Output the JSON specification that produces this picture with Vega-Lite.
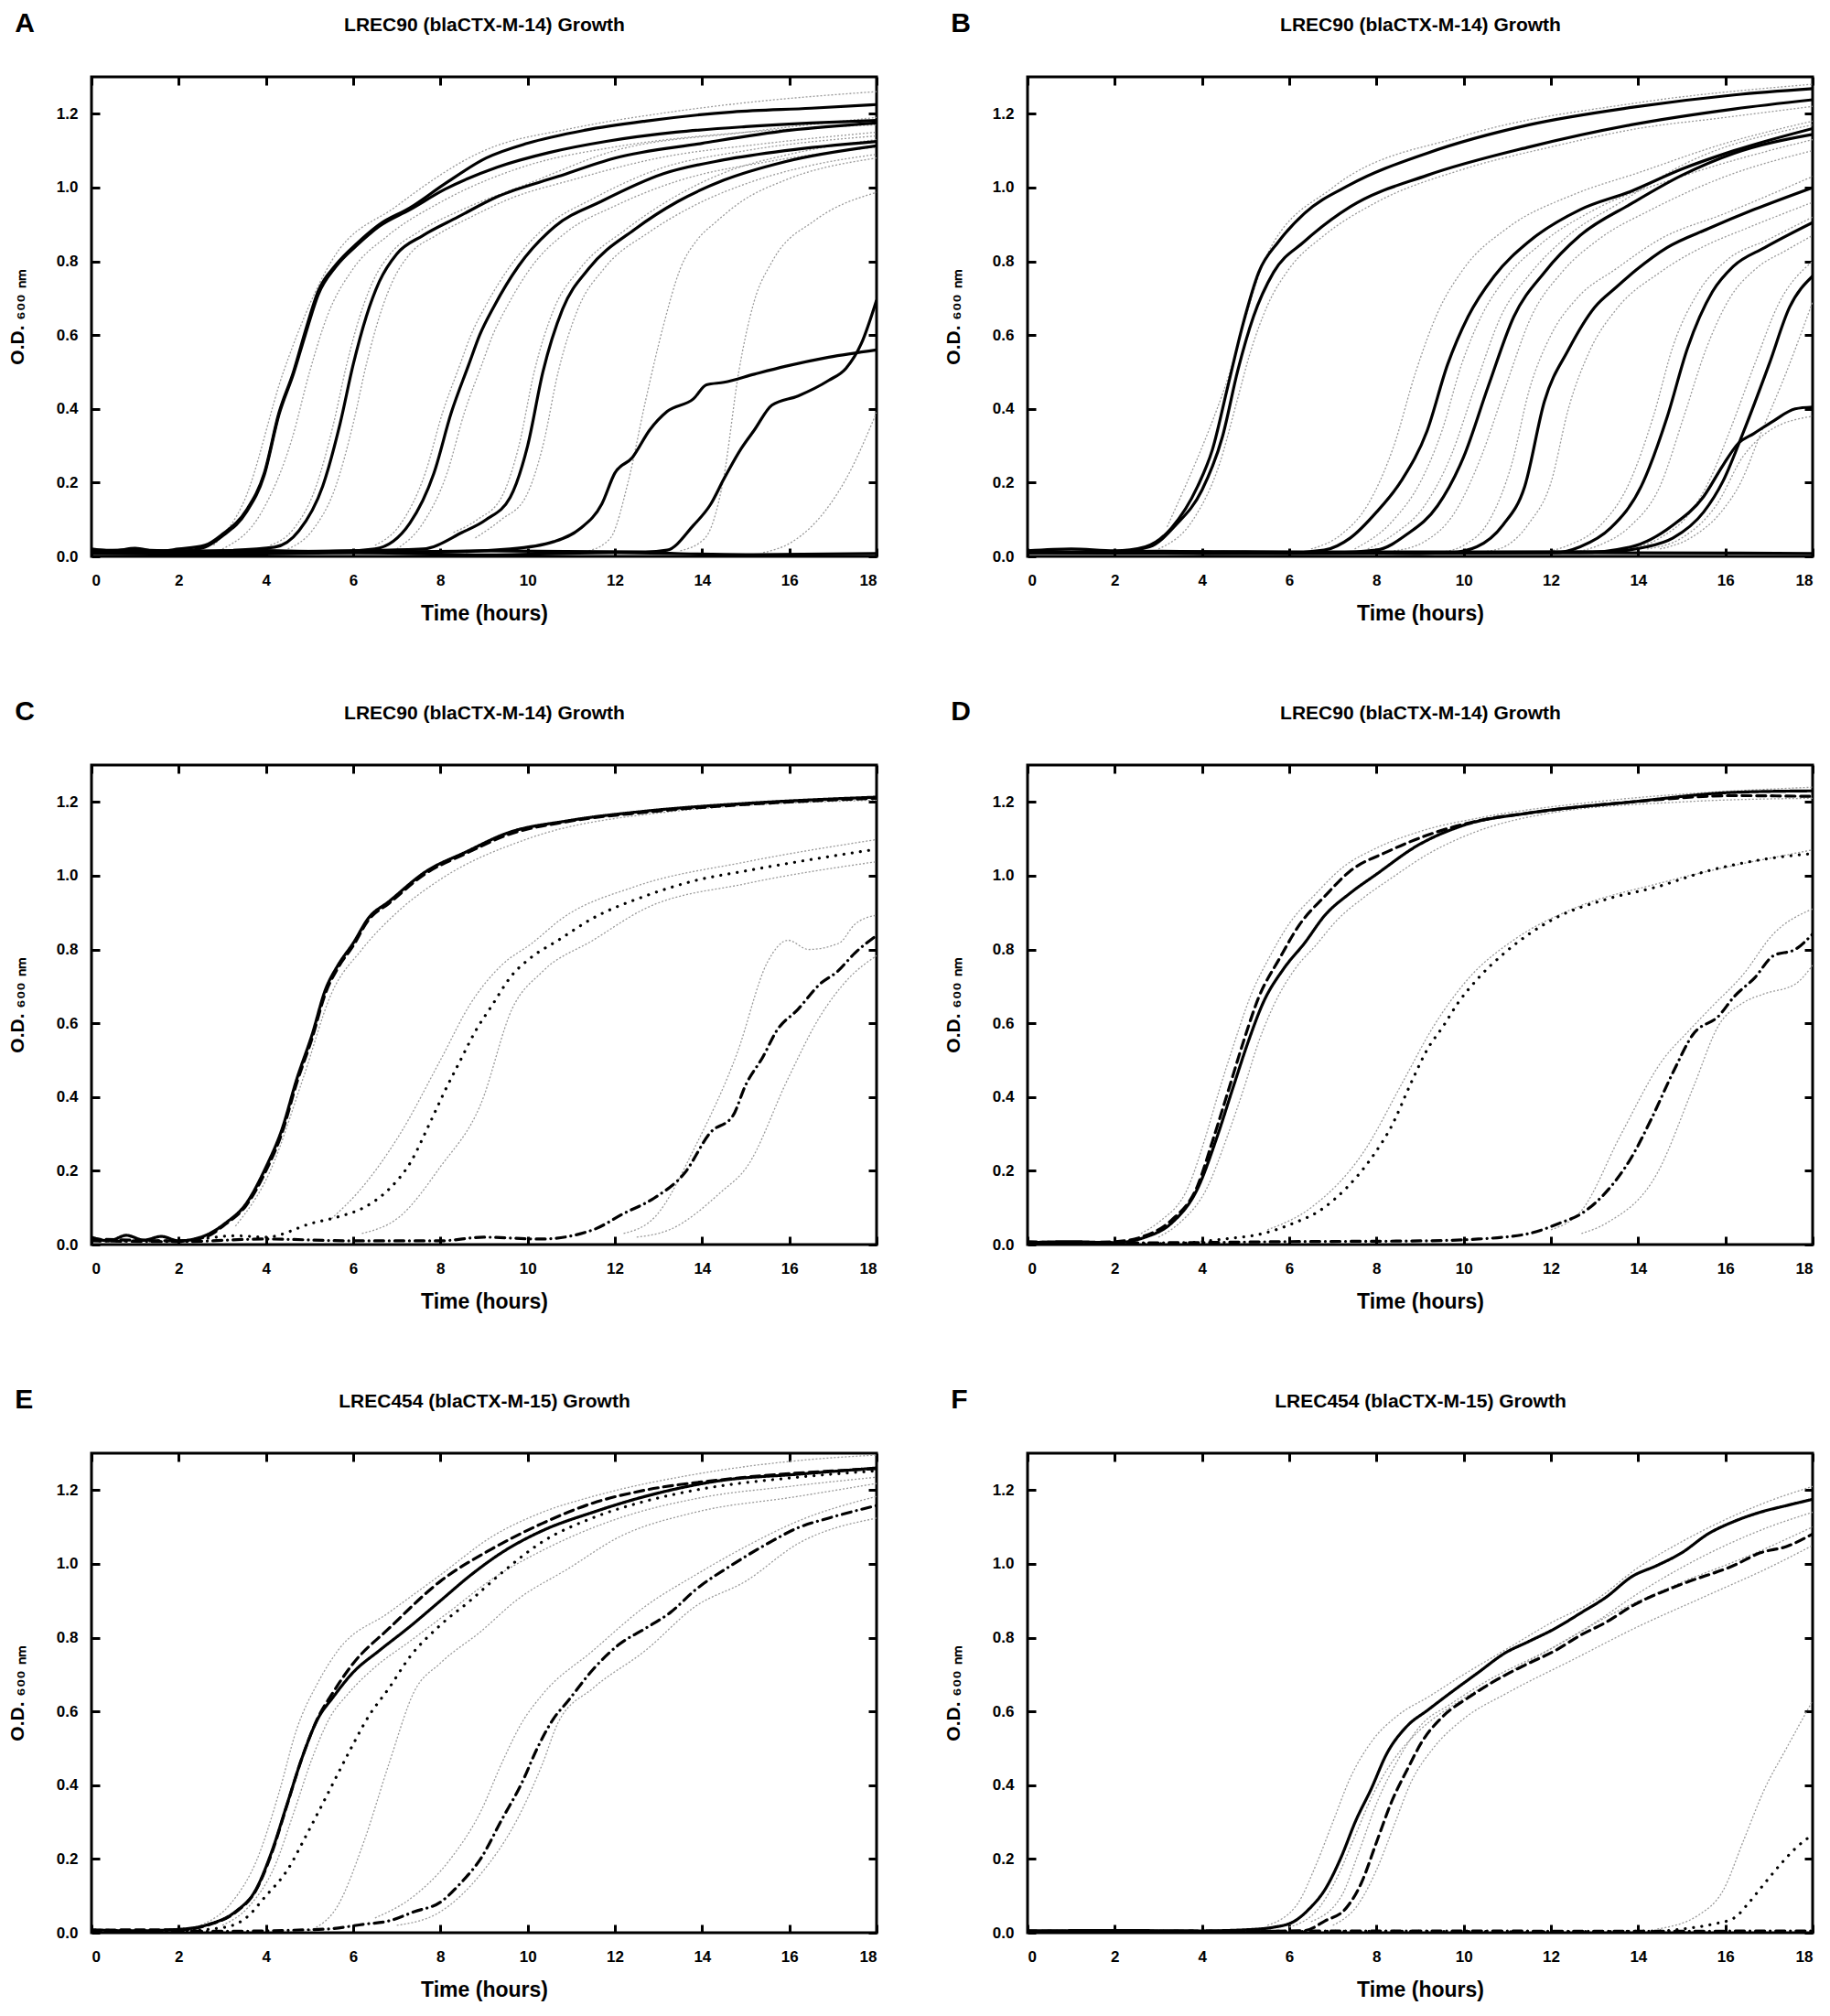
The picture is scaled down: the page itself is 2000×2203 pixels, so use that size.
{
  "$schema": "https://vega.github.io/schema/vega-lite/v6.json",
  "padding": {"left": 6, "top": 9, "right": 0, "bottom": 0},
  "background": "white",
  "columns": 2,
  "spacing": {"row": 77, "column": 68},
  "datasets": {
    "A_m": [
      {"c":"1","t":0,"v":0.02},{"c":"1","t":0.5,"v":0.015},{"c":"1","t":1,"v":0.022},{"c":"1","t":1.5,"v":0.014},{"c":"1","t":2,"v":0.02},{"c":"1","t":2.6,"v":0.03},{"c":"1","t":3.0,"v":0.06},{"c":"1","t":3.55,"v":0.125},{"c":"1","t":3.96,"v":0.225},{"c":"1","t":4.3,"v":0.39},{"c":"1","t":4.63,"v":0.5},{"c":"1","t":4.9,"v":0.61},{"c":"1","t":5.2,"v":0.72},{"c":"1","t":5.6,"v":0.79},{"c":"1","t":6.1,"v":0.85},{"c":"1","t":6.6,"v":0.9},{"c":"1","t":7.3,"v":0.945},{"c":"1","t":8.1,"v":1.01},{"c":"1","t":9.05,"v":1.08},{"c":"1","t":10,"v":1.12},{"c":"1","t":11.3,"v":1.155},{"c":"1","t":12.7,"v":1.18},{"c":"1","t":14.7,"v":1.205},{"c":"1","t":16.5,"v":1.215},{"c":"1","t":18,"v":1.225},
      {"c":"2","t":0,"v":0.015},{"c":"2","t":1,"v":0.018},{"c":"2","t":2,"v":0.014},{"c":"2","t":2.6,"v":0.025},{"c":"2","t":3.0,"v":0.055},{"c":"2","t":3.55,"v":0.12},{"c":"2","t":3.96,"v":0.22},{"c":"2","t":4.3,"v":0.385},{"c":"2","t":4.63,"v":0.495},{"c":"2","t":4.9,"v":0.6},{"c":"2","t":5.2,"v":0.71},{"c":"2","t":5.6,"v":0.785},{"c":"2","t":6.1,"v":0.845},{"c":"2","t":6.6,"v":0.895},{"c":"2","t":7.3,"v":0.94},{"c":"2","t":8.1,"v":0.995},{"c":"2","t":9.3,"v":1.055},{"c":"2","t":10.5,"v":1.095},{"c":"2","t":11.8,"v":1.125},{"c":"2","t":13.4,"v":1.15},{"c":"2","t":15,"v":1.165},{"c":"2","t":16.5,"v":1.175},{"c":"2","t":18,"v":1.182},
      {"c":"3","t":0,"v":0.012},{"c":"3","t":1,"v":0.016},{"c":"3","t":2,"v":0.012},{"c":"3","t":3,"v":0.015},{"c":"3","t":4.2,"v":0.025},{"c":"3","t":4.76,"v":0.07},{"c":"3","t":5.3,"v":0.19},{"c":"3","t":5.7,"v":0.36},{"c":"3","t":6.0,"v":0.52},{"c":"3","t":6.3,"v":0.65},{"c":"3","t":6.6,"v":0.745},{"c":"3","t":7.0,"v":0.82},{"c":"3","t":7.6,"v":0.87},{"c":"3","t":8.4,"v":0.92},{"c":"3","t":9.3,"v":0.975},{"c":"3","t":10.7,"v":1.03},{"c":"3","t":12,"v":1.08},{"c":"3","t":14,"v":1.12},{"c":"3","t":16,"v":1.155},{"c":"3","t":18,"v":1.175},
      {"c":"4","t":0,"v":0.018},{"c":"4","t":2,"v":0.012},{"c":"4","t":4,"v":0.016},{"c":"4","t":5.5,"v":0.012},{"c":"4","t":6.5,"v":0.02},{"c":"4","t":7.3,"v":0.09},{"c":"4","t":7.85,"v":0.225},{"c":"4","t":8.25,"v":0.39},{"c":"4","t":8.65,"v":0.52},{"c":"4","t":8.9,"v":0.6},{"c":"4","t":9.23,"v":0.678},{"c":"4","t":9.79,"v":0.787},{"c":"4","t":10.63,"v":0.895},{"c":"4","t":11.68,"v":0.962},{"c":"4","t":13.1,"v":1.037},{"c":"4","t":14.5,"v":1.075},{"c":"4","t":15.9,"v":1.1},{"c":"4","t":18,"v":1.125},
      {"c":"5","t":0,"v":0.01},{"c":"5","t":2,"v":0.015},{"c":"5","t":4,"v":0.01},{"c":"5","t":6,"v":0.015},{"c":"5","t":7.6,"v":0.02},{"c":"5","t":8.5,"v":0.065},{"c":"5","t":9.05,"v":0.1},{"c":"5","t":9.6,"v":0.16},{"c":"5","t":10.0,"v":0.3},{"c":"5","t":10.35,"v":0.5},{"c":"5","t":10.8,"v":0.67},{"c":"5","t":11.4,"v":0.78},{"c":"5","t":12.46,"v":0.887},{"c":"5","t":13.44,"v":0.962},{"c":"5","t":14.5,"v":1.02},{"c":"5","t":15.9,"v":1.07},{"c":"5","t":18,"v":1.113},
      {"c":"6","t":0,"v":0.015},{"c":"6","t":3,"v":0.01},{"c":"6","t":6,"v":0.015},{"c":"6","t":8,"v":0.012},{"c":"6","t":9.6,"v":0.02},{"c":"6","t":10.6,"v":0.04},{"c":"6","t":11.2,"v":0.075},{"c":"6","t":11.7,"v":0.142},{"c":"6","t":12.0,"v":0.226},{"c":"6","t":12.4,"v":0.268},{"c":"6","t":12.8,"v":0.343},{"c":"6","t":13.2,"v":0.393},{"c":"6","t":13.8,"v":0.427},{"c":"6","t":14.1,"v":0.465},{"c":"6","t":14.5,"v":0.472},{"c":"6","t":15.2,"v":0.494},{"c":"6","t":15.9,"v":0.515},{"c":"6","t":16.9,"v":0.54},{"c":"6","t":18,"v":0.56},
      {"c":"7","t":0,"v":0.01},{"c":"7","t":3,"v":0.015},{"c":"7","t":6,"v":0.01},{"c":"7","t":9,"v":0.015},{"c":"7","t":12.7,"v":0.012},{"c":"7","t":13.2,"v":0.017},{"c":"7","t":13.8,"v":0.084},{"c":"7","t":14.2,"v":0.142},{"c":"7","t":14.5,"v":0.21},{"c":"7","t":14.9,"v":0.293},{"c":"7","t":15.2,"v":0.343},{"c":"7","t":15.6,"v":0.41},{"c":"7","t":16.2,"v":0.435},{"c":"7","t":16.9,"v":0.477},{"c":"7","t":17.3,"v":0.51},{"c":"7","t":17.65,"v":0.577},{"c":"7","t":18,"v":0.695},
      {"c":"8","t":0,"v":0.008},{"c":"8","t":3,"v":0.005},{"c":"8","t":6,"v":0.01},{"c":"8","t":9,"v":0.004},{"c":"8","t":12,"v":0.01},{"c":"8","t":15,"v":0.005},{"c":"8","t":18,"v":0.008}
    ],
    "A_e": [
      {"c":"u1","t":2.8,"v":0.03},{"c":"u1","t":3.5,"v":0.15},{"c":"u1","t":4.4,"v":0.5},{"c":"u1","t":5.5,"v":0.8},{"c":"u1","t":7,"v":0.95},{"c":"u1","t":9,"v":1.1},{"c":"u1","t":11,"v":1.16},{"c":"u1","t":13,"v":1.2},{"c":"u1","t":15,"v":1.23},{"c":"u1","t":18,"v":1.26},
      {"c":"l1","t":3.0,"v":0.02},{"c":"l1","t":3.9,"v":0.12},{"c":"l1","t":4.6,"v":0.32},{"c":"l1","t":5.0,"v":0.5},{"c":"l1","t":5.4,"v":0.65},{"c":"l1","t":6.0,"v":0.78},{"c":"l1","t":6.8,"v":0.87},{"c":"l1","t":8,"v":0.96},{"c":"l1","t":10,"v":1.06},{"c":"l1","t":12,"v":1.11},{"c":"l1","t":15,"v":1.15},{"c":"l1","t":18,"v":1.17},
      {"c":"u3","t":4.1,"v":0.03},{"c":"u3","t":4.6,"v":0.07},{"c":"u3","t":5.15,"v":0.19},{"c":"u3","t":5.55,"v":0.36},{"c":"u3","t":5.85,"v":0.52},{"c":"u3","t":6.15,"v":0.65},{"c":"u3","t":6.45,"v":0.745},{"c":"u3","t":6.85,"v":0.82},{"c":"u3","t":7.5,"v":0.88},{"c":"u3","t":8.5,"v":0.94},{"c":"u3","t":10,"v":1.01},{"c":"u3","t":12,"v":1.1},{"c":"u3","t":15,"v":1.15},{"c":"u3","t":18,"v":1.19},
      {"c":"l3","t":4.5,"v":0.02},{"c":"l3","t":5.06,"v":0.07},{"c":"l3","t":5.6,"v":0.19},{"c":"l3","t":6.0,"v":0.36},{"c":"l3","t":6.3,"v":0.52},{"c":"l3","t":6.6,"v":0.65},{"c":"l3","t":6.9,"v":0.745},{"c":"l3","t":7.3,"v":0.82},{"c":"l3","t":7.9,"v":0.87},{"c":"l3","t":8.7,"v":0.92},{"c":"l3","t":9.6,"v":0.97},{"c":"l3","t":11,"v":1.02},{"c":"l3","t":13,"v":1.08},{"c":"l3","t":15.5,"v":1.12},{"c":"l3","t":18,"v":1.15},
      {"c":"u4","t":6.5,"v":0.03},{"c":"u4","t":7.1,"v":0.09},{"c":"u4","t":7.65,"v":0.225},{"c":"u4","t":8.05,"v":0.39},{"c":"u4","t":8.45,"v":0.52},{"c":"u4","t":8.7,"v":0.6},{"c":"u4","t":9.03,"v":0.678},{"c":"u4","t":9.6,"v":0.787},{"c":"u4","t":10.43,"v":0.895},{"c":"u4","t":11.5,"v":0.97},{"c":"u4","t":13,"v":1.05},{"c":"u4","t":15,"v":1.1},{"c":"u4","t":18,"v":1.14},
      {"c":"l4","t":7.0,"v":0.02},{"c":"l4","t":7.6,"v":0.09},{"c":"l4","t":8.15,"v":0.225},{"c":"l4","t":8.55,"v":0.39},{"c":"l4","t":8.95,"v":0.52},{"c":"l4","t":9.2,"v":0.6},{"c":"l4","t":9.53,"v":0.678},{"c":"l4","t":10.1,"v":0.787},{"c":"l4","t":10.9,"v":0.88},{"c":"l4","t":12,"v":0.95},{"c":"l4","t":13.5,"v":1.02},{"c":"l4","t":15.5,"v":1.07},{"c":"l4","t":18,"v":1.11},
      {"c":"u5","t":8.3,"v":0.065},{"c":"u5","t":8.85,"v":0.1},{"c":"u5","t":9.4,"v":0.16},{"c":"u5","t":9.8,"v":0.3},{"c":"u5","t":10.15,"v":0.5},{"c":"u5","t":10.6,"v":0.67},{"c":"u5","t":11.2,"v":0.78},{"c":"u5","t":12.26,"v":0.887},{"c":"u5","t":13.3,"v":0.97},{"c":"u5","t":14.5,"v":1.04},{"c":"u5","t":16,"v":1.09},{"c":"u5","t":18,"v":1.13},
      {"c":"l5","t":8.8,"v":0.05},{"c":"l5","t":9.4,"v":0.1},{"c":"l5","t":9.95,"v":0.16},{"c":"l5","t":10.35,"v":0.3},{"c":"l5","t":10.7,"v":0.5},{"c":"l5","t":11.15,"v":0.67},{"c":"l5","t":11.75,"v":0.78},{"c":"l5","t":12.8,"v":0.88},{"c":"l5","t":13.8,"v":0.95},{"c":"l5","t":15,"v":1.01},{"c":"l5","t":16.5,"v":1.06},{"c":"l5","t":18,"v":1.09},
      {"c":"g1","t":11.4,"v":0.015},{"c":"g1","t":11.9,"v":0.05},{"c":"g1","t":12.3,"v":0.2},{"c":"g1","t":12.7,"v":0.42},{"c":"g1","t":13.1,"v":0.62},{"c":"g1","t":13.5,"v":0.78},{"c":"g1","t":13.9,"v":0.86},{"c":"g1","t":14.3,"v":0.905},{"c":"g1","t":14.9,"v":0.962},{"c":"g1","t":15.9,"v":1.02},{"c":"g1","t":18,"v":1.08},
      {"c":"g2","t":13.5,"v":0.015},{"c":"g2","t":14.07,"v":0.05},{"c":"g2","t":14.49,"v":0.21},{"c":"g2","t":14.84,"v":0.5},{"c":"g2","t":15.19,"v":0.69},{"c":"g2","t":15.61,"v":0.8},{"c":"g2","t":16.6,"v":0.912},{"c":"g2","t":18,"v":0.987},
      {"c":"g3","t":15.4,"v":0.01},{"c":"g3","t":16.1,"v":0.042},{"c":"g3","t":16.8,"v":0.12},{"c":"g3","t":17.3,"v":0.21},{"c":"g3","t":18,"v":0.39}
    ],
    "B_m": [
      {"c":"1","t":0,"v":0.015},{"c":"1","t":1,"v":0.02},{"c":"1","t":2,"v":0.015},{"c":"1","t":2.7,"v":0.026},{"c":"1","t":3.3,"v":0.077},{"c":"1","t":3.9,"v":0.19},{"c":"1","t":4.24,"v":0.29},{"c":"1","t":4.59,"v":0.46},{"c":"1","t":4.94,"v":0.63},{"c":"1","t":5.3,"v":0.77},{"c":"1","t":5.76,"v":0.854},{"c":"1","t":6.35,"v":0.93},{"c":"1","t":7.4,"v":1.008},{"c":"1","t":9.16,"v":1.093},{"c":"1","t":11.5,"v":1.17},{"c":"1","t":13.84,"v":1.217},{"c":"1","t":16.2,"v":1.251},{"c":"1","t":18,"v":1.268},
      {"c":"2","t":0,"v":0.012},{"c":"2","t":1,"v":0.01},{"c":"2","t":2,"v":0.012},{"c":"2","t":2.8,"v":0.026},{"c":"2","t":3.4,"v":0.085},{"c":"2","t":4.0,"v":0.18},{"c":"2","t":4.47,"v":0.325},{"c":"2","t":4.82,"v":0.504},{"c":"2","t":5.18,"v":0.65},{"c":"2","t":5.64,"v":0.77},{"c":"2","t":6.35,"v":0.854},{"c":"2","t":7.4,"v":0.948},{"c":"2","t":9.16,"v":1.033},{"c":"2","t":11.5,"v":1.11},{"c":"2","t":13.84,"v":1.17},{"c":"2","t":16.2,"v":1.213},{"c":"2","t":18,"v":1.238},
      {"c":"3","t":0,"v":0.01},{"c":"3","t":3,"v":0.014},{"c":"3","t":6,"v":0.01},{"c":"3","t":6.8,"v":0.017},{"c":"3","t":7.4,"v":0.05},{"c":"3","t":8.0,"v":0.12},{"c":"3","t":8.57,"v":0.205},{"c":"3","t":9.16,"v":0.34},{"c":"3","t":9.63,"v":0.52},{"c":"3","t":10.1,"v":0.65},{"c":"3","t":10.7,"v":0.76},{"c":"3","t":11.5,"v":0.854},{"c":"3","t":12.67,"v":0.94},{"c":"3","t":13.84,"v":0.99},{"c":"3","t":15.0,"v":1.05},{"c":"3","t":16.2,"v":1.1},{"c":"3","t":18,"v":1.16},
      {"c":"4","t":0,"v":0.012},{"c":"4","t":4,"v":0.008},{"c":"4","t":7,"v":0.01},{"c":"4","t":8.0,"v":0.017},{"c":"4","t":8.7,"v":0.06},{"c":"4","t":9.4,"v":0.137},{"c":"4","t":10.0,"v":0.27},{"c":"4","t":10.56,"v":0.46},{"c":"4","t":11.15,"v":0.65},{"c":"4","t":11.85,"v":0.77},{"c":"4","t":12.67,"v":0.87},{"c":"4","t":13.84,"v":0.956},{"c":"4","t":15.0,"v":1.033},{"c":"4","t":16.2,"v":1.093},{"c":"4","t":18,"v":1.144},
      {"c":"5","t":0,"v":0.01},{"c":"5","t":5,"v":0.013},{"c":"5","t":9,"v":0.008},{"c":"5","t":9.7,"v":0.01},{"c":"5","t":10.3,"v":0.026},{"c":"5","t":10.9,"v":0.085},{"c":"5","t":11.4,"v":0.19},{"c":"5","t":11.85,"v":0.42},{"c":"5","t":12.4,"v":0.56},{"c":"5","t":13.0,"v":0.675},{"c":"5","t":13.5,"v":0.73},{"c":"5","t":13.96,"v":0.777},{"c":"5","t":14.66,"v":0.837},{"c":"5","t":15.6,"v":0.888},{"c":"5","t":16.65,"v":0.94},{"c":"5","t":18,"v":1.0},
      {"c":"6","t":0,"v":0.012},{"c":"6","t":6,"v":0.009},{"c":"6","t":12.1,"v":0.01},{"c":"6","t":12.67,"v":0.026},{"c":"6","t":13.37,"v":0.077},{"c":"6","t":14.07,"v":0.19},{"c":"6","t":14.66,"v":0.376},{"c":"6","t":15.13,"v":0.564},{"c":"6","t":15.7,"v":0.717},{"c":"6","t":16.18,"v":0.786},{"c":"6","t":16.9,"v":0.837},{"c":"6","t":18,"v":0.905},
      {"c":"7","t":0,"v":0.01},{"c":"7","t":7,"v":0.012},{"c":"7","t":13.25,"v":0.013},{"c":"7","t":14.2,"v":0.026},{"c":"7","t":14.8,"v":0.05},{"c":"7","t":15.5,"v":0.12},{"c":"7","t":15.95,"v":0.205},{"c":"7","t":16.4,"v":0.333},{"c":"7","t":17.0,"v":0.52},{"c":"7","t":17.47,"v":0.675},{"c":"7","t":18,"v":0.76},
      {"c":"8","t":0,"v":0.012},{"c":"8","t":6,"v":0.01},{"c":"8","t":12.67,"v":0.01},{"c":"8","t":13.84,"v":0.026},{"c":"8","t":14.8,"v":0.085},{"c":"8","t":15.5,"v":0.162},{"c":"8","t":15.95,"v":0.248},{"c":"8","t":16.3,"v":0.307},{"c":"8","t":16.65,"v":0.333},{"c":"8","t":17.1,"v":0.367},{"c":"8","t":17.6,"v":0.4},{"c":"8","t":18,"v":0.405},
      {"c":"9","t":0,"v":0.01},{"c":"9","t":6,"v":0.008},{"c":"9","t":12,"v":0.01},{"c":"9","t":18,"v":0.008}
    ],
    "B_e": [
      {"c":"u1","t":3.2,"v":0.08},{"c":"u1","t":4.5,"v":0.45},{"c":"u1","t":5.5,"v":0.82},{"c":"u1","t":7,"v":1.0},{"c":"u1","t":10,"v":1.14},{"c":"u1","t":14,"v":1.23},{"c":"u1","t":18,"v":1.28},
      {"c":"l2","t":3.0,"v":0.02},{"c":"l2","t":3.8,"v":0.1},{"c":"l2","t":4.4,"v":0.25},{"c":"l2","t":4.8,"v":0.42},{"c":"l2","t":5.1,"v":0.55},{"c":"l2","t":5.5,"v":0.68},{"c":"l2","t":6.0,"v":0.78},{"c":"l2","t":6.8,"v":0.87},{"c":"l2","t":8,"v":0.96},{"c":"l2","t":10,"v":1.05},{"c":"l2","t":12,"v":1.11},{"c":"l2","t":14,"v":1.16},{"c":"l2","t":16,"v":1.19},{"c":"l2","t":18,"v":1.22},
      {"c":"u3","t":6.5,"v":0.02},{"c":"u3","t":7.2,"v":0.06},{"c":"u3","t":7.8,"v":0.14},{"c":"u3","t":8.4,"v":0.3},{"c":"u3","t":8.9,"v":0.5},{"c":"u3","t":9.4,"v":0.66},{"c":"u3","t":10.0,"v":0.78},{"c":"u3","t":11,"v":0.89},{"c":"u3","t":12.5,"v":0.98},{"c":"u3","t":14,"v":1.04},{"c":"u3","t":16,"v":1.12},{"c":"u3","t":18,"v":1.18},
      {"c":"l3","t":7.5,"v":0.02},{"c":"l3","t":8.4,"v":0.1},{"c":"l3","t":9.0,"v":0.2},{"c":"l3","t":9.5,"v":0.34},{"c":"l3","t":9.95,"v":0.52},{"c":"l3","t":10.4,"v":0.65},{"c":"l3","t":11.0,"v":0.76},{"c":"l3","t":11.8,"v":0.85},{"c":"l3","t":13,"v":0.94},{"c":"l3","t":15,"v":1.03},{"c":"l3","t":18,"v":1.13},
      {"c":"u4","t":7.8,"v":0.02},{"c":"u4","t":8.4,"v":0.06},{"c":"u4","t":9.1,"v":0.137},{"c":"u4","t":9.7,"v":0.27},{"c":"u4","t":10.26,"v":0.46},{"c":"u4","t":10.85,"v":0.65},{"c":"u4","t":11.55,"v":0.77},{"c":"u4","t":12.4,"v":0.87},{"c":"u4","t":13.6,"v":0.96},{"c":"u4","t":15,"v":1.06},{"c":"u4","t":18,"v":1.17},
      {"c":"l4","t":8.4,"v":0.015},{"c":"l4","t":9.1,"v":0.04},{"c":"l4","t":9.8,"v":0.12},{"c":"l4","t":10.4,"v":0.27},{"c":"l4","t":10.96,"v":0.46},{"c":"l4","t":11.55,"v":0.65},{"c":"l4","t":12.25,"v":0.77},{"c":"l4","t":13.1,"v":0.86},{"c":"l4","t":14.3,"v":0.94},{"c":"l4","t":16,"v":1.03},{"c":"l4","t":18,"v":1.1},
      {"c":"u5","t":9.5,"v":0.012},{"c":"u5","t":10.0,"v":0.03},{"c":"u5","t":10.6,"v":0.1},{"c":"u5","t":11.1,"v":0.25},{"c":"u5","t":11.5,"v":0.45},{"c":"u5","t":12.0,"v":0.6},{"c":"u5","t":12.6,"v":0.7},{"c":"u5","t":13.5,"v":0.78},{"c":"u5","t":14.5,"v":0.86},{"c":"u5","t":16,"v":0.93},{"c":"u5","t":18,"v":1.03},
      {"c":"l5","t":10.2,"v":0.01},{"c":"l5","t":10.8,"v":0.02},{"c":"l5","t":11.5,"v":0.09},{"c":"l5","t":12.0,"v":0.2},{"c":"l5","t":12.4,"v":0.4},{"c":"l5","t":12.9,"v":0.56},{"c":"l5","t":13.5,"v":0.67},{"c":"l5","t":14.5,"v":0.77},{"c":"l5","t":15.5,"v":0.84},{"c":"l5","t":16.5,"v":0.89},{"c":"l5","t":18,"v":0.96},
      {"c":"u6","t":11.8,"v":0.01},{"c":"u6","t":12.4,"v":0.03},{"c":"u6","t":13.1,"v":0.08},{"c":"u6","t":13.8,"v":0.2},{"c":"u6","t":14.35,"v":0.38},{"c":"u6","t":14.8,"v":0.57},{"c":"u6","t":15.4,"v":0.72},{"c":"u6","t":16.0,"v":0.8},{"c":"u6","t":17,"v":0.86},{"c":"u6","t":18,"v":0.92},
      {"c":"l6","t":12.5,"v":0.01},{"c":"l6","t":13.1,"v":0.03},{"c":"l6","t":13.8,"v":0.08},{"c":"l6","t":14.5,"v":0.19},{"c":"l6","t":15.05,"v":0.38},{"c":"l6","t":15.55,"v":0.56},{"c":"l6","t":16.1,"v":0.7},{"c":"l6","t":16.7,"v":0.78},{"c":"l6","t":17.4,"v":0.83},{"c":"l6","t":18,"v":0.87},
      {"c":"u7","t":13.8,"v":0.02},{"c":"u7","t":14.5,"v":0.05},{"c":"u7","t":15.2,"v":0.12},{"c":"u7","t":15.65,"v":0.21},{"c":"u7","t":16.1,"v":0.34},{"c":"u7","t":16.7,"v":0.53},{"c":"u7","t":17.2,"v":0.68},{"c":"u7","t":18,"v":0.8},
      {"c":"l7","t":14.5,"v":0.02},{"c":"l7","t":15.2,"v":0.05},{"c":"l7","t":15.9,"v":0.12},{"c":"l7","t":16.35,"v":0.2},{"c":"l7","t":16.8,"v":0.33},{"c":"l7","t":17.4,"v":0.5},{"c":"l7","t":18,"v":0.69},
      {"c":"l8","t":14.2,"v":0.02},{"c":"l8","t":15.0,"v":0.05},{"c":"l8","t":15.8,"v":0.14},{"c":"l8","t":16.4,"v":0.27},{"c":"l8","t":17,"v":0.34},{"c":"l8","t":18,"v":0.38}
    ],
    "C_m": [
      {"c":"s","t":0,"v":0.02},{"c":"s","t":0.4,"v":0.01},{"c":"s","t":0.8,"v":0.025},{"c":"s","t":1.2,"v":0.012},{"c":"s","t":1.6,"v":0.022},{"c":"s","t":2.0,"v":0.01},{"c":"s","t":2.6,"v":0.024},{"c":"s","t":3.07,"v":0.058},{"c":"s","t":3.54,"v":0.11},{"c":"s","t":4.0,"v":0.21},{"c":"s","t":4.36,"v":0.31},{"c":"s","t":4.71,"v":0.45},{"c":"s","t":5.06,"v":0.57},{"c":"s","t":5.36,"v":0.69},{"c":"s","t":5.65,"v":0.757},{"c":"s","t":6.0,"v":0.817},{"c":"s","t":6.35,"v":0.885},{"c":"s","t":6.82,"v":0.93},{"c":"s","t":7.65,"v":1.01},{"c":"s","t":8.58,"v":1.064},{"c":"s","t":9.52,"v":1.115},{"c":"s","t":10.93,"v":1.149},{"c":"s","t":12.7,"v":1.175},{"c":"s","t":15.0,"v":1.196},{"c":"s","t":18,"v":1.213},
      {"c":"d","t":0,"v":0.015},{"c":"d","t":1,"v":0.012},{"c":"d","t":2,"v":0.01},{"c":"d","t":2.6,"v":0.02},{"c":"d","t":3.07,"v":0.055},{"c":"d","t":3.54,"v":0.105},{"c":"d","t":4.0,"v":0.2},{"c":"d","t":4.36,"v":0.3},{"c":"d","t":4.71,"v":0.44},{"c":"d","t":5.06,"v":0.56},{"c":"d","t":5.36,"v":0.68},{"c":"d","t":5.65,"v":0.75},{"c":"d","t":6.0,"v":0.81},{"c":"d","t":6.35,"v":0.88},{"c":"d","t":6.82,"v":0.925},{"c":"d","t":7.65,"v":1.005},{"c":"d","t":8.58,"v":1.06},{"c":"d","t":9.52,"v":1.11},{"c":"d","t":10.93,"v":1.147},{"c":"d","t":12.7,"v":1.172},{"c":"d","t":15.0,"v":1.193},{"c":"d","t":18,"v":1.21},
      {"c":"o","t":0,"v":0.01},{"c":"o","t":2,"v":0.01},{"c":"o","t":3.3,"v":0.024},{"c":"o","t":4,"v":0.02},{"c":"o","t":5.06,"v":0.058},{"c":"o","t":5.65,"v":0.075},{"c":"o","t":6.24,"v":0.1},{"c":"o","t":6.82,"v":0.15},{"c":"o","t":7.3,"v":0.22},{"c":"o","t":7.76,"v":0.33},{"c":"o","t":8.1,"v":0.416},{"c":"o","t":8.46,"v":0.5},{"c":"o","t":8.8,"v":0.578},{"c":"o","t":9.17,"v":0.646},{"c":"o","t":9.64,"v":0.73},{"c":"o","t":10.1,"v":0.78},{"c":"o","t":10.7,"v":0.825},{"c":"o","t":11.5,"v":0.885},{"c":"o","t":12.7,"v":0.945},{"c":"o","t":13.85,"v":0.987},{"c":"o","t":15.0,"v":1.013},{"c":"o","t":16.2,"v":1.038},{"c":"o","t":18,"v":1.072},
      {"c":"x","t":0,"v":0.01},{"c":"x","t":2,"v":0.008},{"c":"x","t":4,"v":0.015},{"c":"x","t":6,"v":0.01},{"c":"x","t":8,"v":0.01},{"c":"x","t":9,"v":0.02},{"c":"x","t":10.3,"v":0.015},{"c":"x","t":11.5,"v":0.04},{"c":"x","t":12.2,"v":0.084},{"c":"x","t":12.9,"v":0.126},{"c":"x","t":13.6,"v":0.194},{"c":"x","t":14.2,"v":0.305},{"c":"x","t":14.7,"v":0.348},{"c":"x","t":15.0,"v":0.433},{"c":"x","t":15.4,"v":0.51},{"c":"x","t":15.7,"v":0.578},{"c":"x","t":16.2,"v":0.638},{"c":"x","t":16.7,"v":0.706},{"c":"x","t":17.1,"v":0.74},{"c":"x","t":17.5,"v":0.79},{"c":"x","t":18,"v":0.838}
    ],
    "C_e": [
      {"c":"l1","t":3.3,"v":0.05},{"c":"l1","t":4.1,"v":0.2},{"c":"l1","t":4.85,"v":0.45},{"c":"l1","t":5.5,"v":0.68},{"c":"l1","t":6.2,"v":0.8},{"c":"l1","t":7,"v":0.9},{"c":"l1","t":8,"v":0.99},{"c":"l1","t":10,"v":1.1},{"c":"l1","t":13,"v":1.17},{"c":"l1","t":18,"v":1.205},
      {"c":"u3","t":5.5,"v":0.07},{"c":"u3","t":6.12,"v":0.143},{"c":"u3","t":7.06,"v":0.297},{"c":"u3","t":8.0,"v":0.5},{"c":"u3","t":8.7,"v":0.655},{"c":"u3","t":9.4,"v":0.757},{"c":"u3","t":10.1,"v":0.817},{"c":"u3","t":10.8,"v":0.885},{"c":"u3","t":12.45,"v":0.97},{"c":"u3","t":15.03,"v":1.038},{"c":"u3","t":18,"v":1.098},
      {"c":"l3","t":6.2,"v":0.03},{"c":"l3","t":7.06,"v":0.075},{"c":"l3","t":8.0,"v":0.211},{"c":"l3","t":8.93,"v":0.382},{"c":"l3","t":9.64,"v":0.638},{"c":"l3","t":10.34,"v":0.74},{"c":"l3","t":11.5,"v":0.825},{"c":"l3","t":12.68,"v":0.91},{"c":"l3","t":15.03,"v":0.979},{"c":"l3","t":18,"v":1.038},
      {"c":"u4","t":12.2,"v":0.03},{"c":"u4","t":12.92,"v":0.075},{"c":"u4","t":13.86,"v":0.27},{"c":"u4","t":14.8,"v":0.518},{"c":"u4","t":15.5,"v":0.766},{"c":"u4","t":15.97,"v":0.825},{"c":"u4","t":16.44,"v":0.8},{"c":"u4","t":17.14,"v":0.817},{"c":"u4","t":17.5,"v":0.868},{"c":"u4","t":18,"v":0.893},
      {"c":"l4","t":12.5,"v":0.02},{"c":"l4","t":13.27,"v":0.041},{"c":"l4","t":14.44,"v":0.143},{"c":"l4","t":15.03,"v":0.211},{"c":"l4","t":15.97,"v":0.45},{"c":"l4","t":16.67,"v":0.612},{"c":"l4","t":17.37,"v":0.723},{"c":"l4","t":18,"v":0.783}
    ],
    "D_m": [
      {"c":"s","t":0,"v":0.005},{"c":"s","t":1,"v":0.008},{"c":"s","t":2,"v":0.005},{"c":"s","t":2.7,"v":0.02},{"c":"s","t":3.3,"v":0.058},{"c":"s","t":3.9,"v":0.152},{"c":"s","t":4.36,"v":0.297},{"c":"s","t":4.71,"v":0.425},{"c":"s","t":5.06,"v":0.55},{"c":"s","t":5.4,"v":0.655},{"c":"s","t":5.88,"v":0.749},{"c":"s","t":6.35,"v":0.817},{"c":"s","t":6.82,"v":0.893},{"c":"s","t":7.4,"v":0.953},{"c":"s","t":8.0,"v":1.004},{"c":"s","t":8.93,"v":1.081},{"c":"s","t":9.98,"v":1.136},{"c":"s","t":11.5,"v":1.17},{"c":"s","t":13.85,"v":1.2},{"c":"s","t":16.2,"v":1.226},{"c":"s","t":18,"v":1.23},
      {"c":"d","t":0,"v":0.008},{"c":"d","t":1,"v":0.005},{"c":"d","t":2,"v":0.008},{"c":"d","t":2.7,"v":0.024},{"c":"d","t":3.3,"v":0.066},{"c":"d","t":3.9,"v":0.16},{"c":"d","t":4.24,"v":0.28},{"c":"d","t":4.6,"v":0.416},{"c":"d","t":4.95,"v":0.55},{"c":"d","t":5.3,"v":0.67},{"c":"d","t":5.77,"v":0.774},{"c":"d","t":6.24,"v":0.868},{"c":"d","t":6.82,"v":0.945},{"c":"d","t":7.4,"v":1.013},{"c":"d","t":8.23,"v":1.064},{"c":"d","t":9.17,"v":1.11},{"c":"d","t":10.34,"v":1.149},{"c":"d","t":11.5,"v":1.17},{"c":"d","t":13.85,"v":1.2},{"c":"d","t":16.2,"v":1.217},{"c":"d","t":18,"v":1.215},
      {"c":"o","t":0,"v":0.003},{"c":"o","t":3.3,"v":0.003},{"c":"o","t":4.5,"v":0.015},{"c":"o","t":5.4,"v":0.03},{"c":"o","t":6.1,"v":0.058},{"c":"o","t":6.7,"v":0.092},{"c":"o","t":7.3,"v":0.152},{"c":"o","t":7.9,"v":0.237},{"c":"o","t":8.35,"v":0.322},{"c":"o","t":8.8,"v":0.44},{"c":"o","t":9.17,"v":0.53},{"c":"o","t":9.52,"v":0.59},{"c":"o","t":9.87,"v":0.655},{"c":"o","t":10.34,"v":0.723},{"c":"o","t":10.93,"v":0.79},{"c":"o","t":11.5,"v":0.842},{"c":"o","t":12.1,"v":0.885},{"c":"o","t":13.27,"v":0.936},{"c":"o","t":14.44,"v":0.97},{"c":"o","t":15.6,"v":1.013},{"c":"o","t":16.8,"v":1.043},{"c":"o","t":18,"v":1.06},
      {"c":"x","t":0,"v":0.005},{"c":"x","t":3,"v":0.005},{"c":"x","t":6,"v":0.008},{"c":"x","t":9,"v":0.01},{"c":"x","t":10.34,"v":0.015},{"c":"x","t":11.5,"v":0.03},{"c":"x","t":12.2,"v":0.058},{"c":"x","t":12.7,"v":0.084},{"c":"x","t":13.27,"v":0.143},{"c":"x","t":13.85,"v":0.237},{"c":"x","t":14.3,"v":0.34},{"c":"x","t":14.8,"v":0.467},{"c":"x","t":15.26,"v":0.57},{"c":"x","t":15.85,"v":0.62},{"c":"x","t":16.2,"v":0.672},{"c":"x","t":16.67,"v":0.723},{"c":"x","t":17.1,"v":0.783},{"c":"x","t":17.6,"v":0.8},{"c":"x","t":18,"v":0.842}
    ],
    "D_e": [
      {"c":"u1","t":2.6,"v":0.03},{"c":"u1","t":3.0,"v":0.06},{"c":"u1","t":3.7,"v":0.16},{"c":"u1","t":4.05,"v":0.28},{"c":"u1","t":4.4,"v":0.42},{"c":"u1","t":4.75,"v":0.55},{"c":"u1","t":5.1,"v":0.67},{"c":"u1","t":5.55,"v":0.78},{"c":"u1","t":6.0,"v":0.87},{"c":"u1","t":6.6,"v":0.95},{"c":"u1","t":7.2,"v":1.02},{"c":"u1","t":8,"v":1.075},{"c":"u1","t":9,"v":1.12},{"c":"u1","t":10.5,"v":1.16},{"c":"u1","t":13,"v":1.2},{"c":"u1","t":18,"v":1.24},
      {"c":"l1","t":3.0,"v":0.02},{"c":"l1","t":3.5,"v":0.06},{"c":"l1","t":4.1,"v":0.15},{"c":"l1","t":4.6,"v":0.3},{"c":"l1","t":4.95,"v":0.42},{"c":"l1","t":5.3,"v":0.55},{"c":"l1","t":5.65,"v":0.65},{"c":"l1","t":6.15,"v":0.75},{"c":"l1","t":6.6,"v":0.81},{"c":"l1","t":7.1,"v":0.88},{"c":"l1","t":7.7,"v":0.94},{"c":"l1","t":8.3,"v":0.99},{"c":"l1","t":9.2,"v":1.06},{"c":"l1","t":10.3,"v":1.12},{"c":"l1","t":12,"v":1.17},{"c":"l1","t":15,"v":1.2},{"c":"l1","t":18,"v":1.21},
      {"c":"u3","t":5.5,"v":0.04},{"c":"u3","t":6.5,"v":0.1},{"c":"u3","t":7.7,"v":0.25},{"c":"u3","t":8.6,"v":0.44},{"c":"u3","t":9.3,"v":0.59},{"c":"u3","t":10.1,"v":0.72},{"c":"u3","t":11.2,"v":0.83},{"c":"u3","t":12.5,"v":0.91},{"c":"u3","t":14.5,"v":0.98},{"c":"u3","t":18,"v":1.07},
      {"c":"u4","t":12.0,"v":0.04},{"c":"u4","t":12.7,"v":0.092},{"c":"u4","t":13.6,"v":0.297},{"c":"u4","t":14.56,"v":0.5},{"c":"u4","t":15.15,"v":0.578},{"c":"u4","t":15.7,"v":0.646},{"c":"u4","t":16.4,"v":0.731},{"c":"u4","t":17.1,"v":0.842},{"c":"u4","t":18,"v":0.91},
      {"c":"l4","t":12.7,"v":0.03},{"c":"l4","t":13.27,"v":0.058},{"c":"l4","t":14.44,"v":0.194},{"c":"l4","t":15.26,"v":0.425},{"c":"l4","t":15.85,"v":0.595},{"c":"l4","t":16.4,"v":0.655},{"c":"l4","t":16.9,"v":0.68},{"c":"l4","t":17.6,"v":0.706},{"c":"l4","t":18,"v":0.757}
    ],
    "E_m": [
      {"c":"s","t":0,"v":0.008},{"c":"s","t":1,"v":0.005},{"c":"s","t":2.1,"v":0.01},{"c":"s","t":2.7,"v":0.023},{"c":"s","t":3.3,"v":0.057},{"c":"s","t":3.77,"v":0.117},{"c":"s","t":4.13,"v":0.219},{"c":"s","t":4.48,"v":0.347},{"c":"s","t":4.83,"v":0.475},{"c":"s","t":5.18,"v":0.578},{"c":"s","t":5.53,"v":0.637},{"c":"s","t":6.0,"v":0.706},{"c":"s","t":6.6,"v":0.765},{"c":"s","t":7.3,"v":0.83},{"c":"s","t":8.0,"v":0.9},{"c":"s","t":8.7,"v":0.97},{"c":"s","t":9.4,"v":1.03},{"c":"s","t":10.34,"v":1.09},{"c":"s","t":11.5,"v":1.14},{"c":"s","t":12.7,"v":1.183},{"c":"s","t":14.44,"v":1.226},{"c":"s","t":16.2,"v":1.243},{"c":"s","t":18,"v":1.26},
      {"c":"d","t":0,"v":0.006},{"c":"d","t":1,"v":0.008},{"c":"d","t":2.1,"v":0.008},{"c":"d","t":2.7,"v":0.022},{"c":"d","t":3.3,"v":0.055},{"c":"d","t":3.77,"v":0.115},{"c":"d","t":4.13,"v":0.215},{"c":"d","t":4.48,"v":0.345},{"c":"d","t":4.83,"v":0.475},{"c":"d","t":5.18,"v":0.58},{"c":"d","t":5.53,"v":0.65},{"c":"d","t":6.0,"v":0.73},{"c":"d","t":6.82,"v":0.825},{"c":"d","t":8.0,"v":0.953},{"c":"d","t":9.17,"v":1.04},{"c":"d","t":10.34,"v":1.11},{"c":"d","t":11.5,"v":1.165},{"c":"d","t":12.7,"v":1.2},{"c":"d","t":14.44,"v":1.228},{"c":"d","t":18,"v":1.258},
      {"c":"o","t":0,"v":0.005},{"c":"o","t":2,"v":0.005},{"c":"o","t":3.07,"v":0.015},{"c":"o","t":3.54,"v":0.04},{"c":"o","t":4.0,"v":0.1},{"c":"o","t":4.48,"v":0.168},{"c":"o","t":4.95,"v":0.27},{"c":"o","t":5.4,"v":0.373},{"c":"o","t":5.88,"v":0.484},{"c":"o","t":6.35,"v":0.586},{"c":"o","t":6.82,"v":0.663},{"c":"o","t":7.3,"v":0.748},{"c":"o","t":8.0,"v":0.834},{"c":"o","t":8.7,"v":0.902},{"c":"o","t":9.4,"v":0.975},{"c":"o","t":10.34,"v":1.06},{"c":"o","t":11.5,"v":1.125},{"c":"o","t":12.7,"v":1.17},{"c":"o","t":13.85,"v":1.2},{"c":"o","t":16.2,"v":1.235},{"c":"o","t":18,"v":1.252},
      {"c":"x","t":0,"v":0.004},{"c":"x","t":3,"v":0.004},{"c":"x","t":5.4,"v":0.01},{"c":"x","t":6.24,"v":0.023},{"c":"x","t":6.82,"v":0.032},{"c":"x","t":7.4,"v":0.057},{"c":"x","t":8.0,"v":0.083},{"c":"x","t":8.46,"v":0.134},{"c":"x","t":8.93,"v":0.202},{"c":"x","t":9.4,"v":0.305},{"c":"x","t":9.87,"v":0.407},{"c":"x","t":10.22,"v":0.5},{"c":"x","t":10.58,"v":0.578},{"c":"x","t":10.93,"v":0.629},{"c":"x","t":11.5,"v":0.714},{"c":"x","t":12.1,"v":0.782},{"c":"x","t":12.7,"v":0.825},{"c":"x","t":13.27,"v":0.868},{"c":"x","t":13.85,"v":0.93},{"c":"x","t":14.67,"v":0.996},{"c":"x","t":15.5,"v":1.055},{"c":"x","t":16.2,"v":1.098},{"c":"x","t":16.9,"v":1.124},{"c":"x","t":18,"v":1.158}
    ],
    "E_e": [
      {"c":"u1","t":2.5,"v":0.02},{"c":"u1","t":3.2,"v":0.08},{"c":"u1","t":3.8,"v":0.2},{"c":"u1","t":4.3,"v":0.38},{"c":"u1","t":4.7,"v":0.55},{"c":"u1","t":5.2,"v":0.68},{"c":"u1","t":5.65,"v":0.765},{"c":"u1","t":6.82,"v":0.868},{"c":"u1","t":8.0,"v":0.97},{"c":"u1","t":9.17,"v":1.073},{"c":"u1","t":10.34,"v":1.14},{"c":"u1","t":11.5,"v":1.183},{"c":"u1","t":13.85,"v":1.243},{"c":"u1","t":16.2,"v":1.28},{"c":"u1","t":18,"v":1.295},
      {"c":"l1","t":3.0,"v":0.02},{"c":"l1","t":3.6,"v":0.07},{"c":"l1","t":4.2,"v":0.18},{"c":"l1","t":4.65,"v":0.33},{"c":"l1","t":5.05,"v":0.47},{"c":"l1","t":5.45,"v":0.58},{"c":"l1","t":5.9,"v":0.65},{"c":"l1","t":6.5,"v":0.72},{"c":"l1","t":7.3,"v":0.79},{"c":"l1","t":8.2,"v":0.87},{"c":"l1","t":9.2,"v":0.96},{"c":"l1","t":10.4,"v":1.04},{"c":"l1","t":12,"v":1.12},{"c":"l1","t":14,"v":1.18},{"c":"l1","t":16,"v":1.21},{"c":"l1","t":18,"v":1.235},
      {"c":"l3","t":5.0,"v":0.006},{"c":"l3","t":5.65,"v":0.074},{"c":"l3","t":6.24,"v":0.245},{"c":"l3","t":6.82,"v":0.458},{"c":"l3","t":7.4,"v":0.654},{"c":"l3","t":8.0,"v":0.731},{"c":"l3","t":8.93,"v":0.817},{"c":"l3","t":9.75,"v":0.902},{"c":"l3","t":10.93,"v":0.987},{"c":"l3","t":12.1,"v":1.073},{"c":"l3","t":13.85,"v":1.14},{"c":"l3","t":16.2,"v":1.183},{"c":"l3","t":18,"v":1.218},
      {"c":"u4","t":6.5,"v":0.04},{"c":"u4","t":7.4,"v":0.1},{"c":"u4","t":8.23,"v":0.2},{"c":"u4","t":8.93,"v":0.33},{"c":"u4","t":9.4,"v":0.458},{"c":"u4","t":9.87,"v":0.57},{"c":"u4","t":10.34,"v":0.646},{"c":"u4","t":11.5,"v":0.765},{"c":"u4","t":12.7,"v":0.885},{"c":"u4","t":13.85,"v":0.97},{"c":"u4","t":15.0,"v":1.047},{"c":"u4","t":16.2,"v":1.116},{"c":"u4","t":18,"v":1.183},
      {"c":"l4","t":7.0,"v":0.02},{"c":"l4","t":8.0,"v":0.057},{"c":"l4","t":8.93,"v":0.16},{"c":"l4","t":9.75,"v":0.305},{"c":"l4","t":10.34,"v":0.458},{"c":"l4","t":10.7,"v":0.57},{"c":"l4","t":11.5,"v":0.663},{"c":"l4","t":12.7,"v":0.765},{"c":"l4","t":13.85,"v":0.885},{"c":"l4","t":15.0,"v":0.953},{"c":"l4","t":16.2,"v":1.055},{"c":"l4","t":18,"v":1.124}
    ],
    "F_m": [
      {"c":"s","t":0,"v":0.005},{"c":"s","t":2,"v":0.006},{"c":"s","t":4,"v":0.005},{"c":"s","t":5.0,"v":0.008},{"c":"s","t":5.65,"v":0.015},{"c":"s","t":6.1,"v":0.03},{"c":"s","t":6.47,"v":0.066},{"c":"s","t":6.82,"v":0.117},{"c":"s","t":7.18,"v":0.202},{"c":"s","t":7.53,"v":0.305},{"c":"s","t":7.88,"v":0.39},{"c":"s","t":8.23,"v":0.484},{"c":"s","t":8.7,"v":0.56},{"c":"s","t":9.17,"v":0.603},{"c":"s","t":9.75,"v":0.655},{"c":"s","t":10.34,"v":0.706},{"c":"s","t":10.93,"v":0.757},{"c":"s","t":11.5,"v":0.79},{"c":"s","t":12.1,"v":0.825},{"c":"s","t":12.7,"v":0.868},{"c":"s","t":13.27,"v":0.91},{"c":"s","t":13.85,"v":0.965},{"c":"s","t":14.44,"v":0.996},{"c":"s","t":15.0,"v":1.03},{"c":"s","t":15.6,"v":1.081},{"c":"s","t":16.2,"v":1.115},{"c":"s","t":16.8,"v":1.14},{"c":"s","t":17.4,"v":1.158},{"c":"s","t":18,"v":1.175},
      {"c":"d","t":0,"v":0.004},{"c":"d","t":3,"v":0.004},{"c":"d","t":5.5,"v":0.004},{"c":"d","t":6.35,"v":0.006},{"c":"d","t":6.82,"v":0.032},{"c":"d","t":7.3,"v":0.066},{"c":"d","t":7.65,"v":0.134},{"c":"d","t":8.0,"v":0.245},{"c":"d","t":8.35,"v":0.356},{"c":"d","t":8.7,"v":0.441},{"c":"d","t":9.05,"v":0.519},{"c":"d","t":9.52,"v":0.586},{"c":"d","t":10.1,"v":0.637},{"c":"d","t":10.93,"v":0.697},{"c":"d","t":11.5,"v":0.731},{"c":"d","t":12.1,"v":0.765},{"c":"d","t":12.7,"v":0.808},{"c":"d","t":13.27,"v":0.842},{"c":"d","t":13.85,"v":0.885},{"c":"d","t":15.0,"v":0.945},{"c":"d","t":16.2,"v":0.996},{"c":"d","t":16.8,"v":1.03},{"c":"d","t":17.4,"v":1.047},{"c":"d","t":18,"v":1.081},
      {"c":"o","t":0,"v":0.003},{"c":"o","t":4,"v":0.003},{"c":"o","t":8,"v":0.004},{"c":"o","t":12,"v":0.003},{"c":"o","t":14.5,"v":0.005},{"c":"o","t":15.0,"v":0.01},{"c":"o","t":15.7,"v":0.023},{"c":"o","t":16.2,"v":0.04},{"c":"o","t":16.55,"v":0.083},{"c":"o","t":16.9,"v":0.134},{"c":"o","t":17.26,"v":0.185},{"c":"o","t":17.6,"v":0.228},{"c":"o","t":18,"v":0.266},
      {"c":"x","t":0,"v":0.004},{"c":"x","t":4.5,"v":0.004},{"c":"x","t":9,"v":0.005},{"c":"x","t":13.5,"v":0.004},{"c":"x","t":18,"v":0.005}
    ],
    "F_e": [
      {"c":"u1","t":5.5,"v":0.02},{"c":"u1","t":6.2,"v":0.08},{"c":"u1","t":6.6,"v":0.18},{"c":"u1","t":7.0,"v":0.3},{"c":"u1","t":7.4,"v":0.42},{"c":"u1","t":7.9,"v":0.52},{"c":"u1","t":8.5,"v":0.59},{"c":"u1","t":9.2,"v":0.64},{"c":"u1","t":10,"v":0.7},{"c":"u1","t":11,"v":0.77},{"c":"u1","t":12,"v":0.84},{"c":"u1","t":13,"v":0.9},{"c":"u1","t":14,"v":0.99},{"c":"u1","t":15,"v":1.06},{"c":"u1","t":16,"v":1.12},{"c":"u1","t":17,"v":1.17},{"c":"u1","t":18,"v":1.21},
      {"c":"l1","t":6.0,"v":0.015},{"c":"l1","t":6.7,"v":0.07},{"c":"l1","t":7.1,"v":0.15},{"c":"l1","t":7.5,"v":0.26},{"c":"l1","t":7.9,"v":0.37},{"c":"l1","t":8.4,"v":0.47},{"c":"l1","t":9.0,"v":0.55},{"c":"l1","t":9.8,"v":0.62},{"c":"l1","t":10.8,"v":0.69},{"c":"l1","t":12,"v":0.77},{"c":"l1","t":13,"v":0.84},{"c":"l1","t":14,"v":0.92},{"c":"l1","t":15,"v":0.99},{"c":"l1","t":16,"v":1.05},{"c":"l1","t":17,"v":1.1},{"c":"l1","t":18,"v":1.14},
      {"c":"u2","t":6.5,"v":0.03},{"c":"u2","t":7.2,"v":0.1},{"c":"u2","t":7.6,"v":0.22},{"c":"u2","t":8.0,"v":0.35},{"c":"u2","t":8.5,"v":0.47},{"c":"u2","t":9.0,"v":0.56},{"c":"u2","t":9.7,"v":0.62},{"c":"u2","t":10.5,"v":0.68},{"c":"u2","t":12,"v":0.77},{"c":"u2","t":13.5,"v":0.87},{"c":"u2","t":15,"v":0.95},{"c":"u2","t":16.5,"v":1.02},{"c":"u2","t":18,"v":1.1},
      {"c":"l2","t":7.0,"v":0.02},{"c":"l2","t":7.6,"v":0.08},{"c":"l2","t":8.0,"v":0.17},{"c":"l2","t":8.4,"v":0.29},{"c":"l2","t":8.8,"v":0.41},{"c":"l2","t":9.3,"v":0.5},{"c":"l2","t":10,"v":0.58},{"c":"l2","t":11,"v":0.65},{"c":"l2","t":12.5,"v":0.74},{"c":"l2","t":14,"v":0.83},{"c":"l2","t":15.5,"v":0.91},{"c":"l2","t":17,"v":0.99},{"c":"l2","t":18,"v":1.05},
      {"c":"u3","t":14.44,"v":0.01},{"c":"u3","t":15.4,"v":0.049},{"c":"u3","t":15.96,"v":0.117},{"c":"u3","t":16.4,"v":0.245},{"c":"u3","t":16.9,"v":0.39},{"c":"u3","t":17.4,"v":0.5},{"c":"u3","t":18,"v":0.629}
    ]
  },
  "concat": [
    {
      "width": 858, "height": 524,
      "title": {"text": "A"},
      "resolve": {"axis": {"x": "independent", "y": "independent"}},
      "layer": [
        {"data": {"name": "A_e"}, "mark": {"type": "line", "interpolate": "monotone", "color": "#9a9a9a", "strokeWidth": 1.3, "strokeDash": [2, 2], "clip": true},
         "encoding": {"x": {"field": "t", "type": "quantitative", "scale": {"domain": [0, 18], "nice": false}, "axis": {"orient": "bottom", "values": [0,2,4,6,8,10,12,14,16,18], "title": "Time (hours)"}},
                      "y": {"field": "v", "type": "quantitative", "scale": {"domain": [0, 1.3], "nice": false}, "axis": {"orient": "left", "values": [0,0.2,0.4,0.6,0.8,1.0,1.2], "format": ".1f", "title": "O.D. ₆₀₀ ₙₘ"}},
                      "detail": {"field": "c"}}},
        {"data": {"name": "A_m"}, "mark": {"type": "line", "interpolate": "monotone", "color": "#000", "strokeWidth": 3.2, "clip": true},
         "encoding": {"x": {"field": "t", "type": "quantitative", "axis": {"orient": "top", "values": [0,2,4,6,8,10,12,14,16,18], "labels": false, "title": "LREC90 (blaCTX-M-14) Growth", "titlePadding": 45, "titleFontSize": 21}},
                      "y": {"field": "v", "type": "quantitative", "axis": {"orient": "right", "values": [0,0.2,0.4,0.6,0.8,1.0,1.2], "labels": false, "title": null}},
                      "detail": {"field": "c"}}}
      ]
    },
    {
      "width": 858, "height": 524,
      "title": {"text": "B"},
      "resolve": {"axis": {"x": "independent", "y": "independent"}},
      "layer": [
        {"data": {"name": "B_e"}, "mark": {"type": "line", "interpolate": "monotone", "color": "#9a9a9a", "strokeWidth": 1.3, "strokeDash": [2, 2], "clip": true},
         "encoding": {"x": {"field": "t", "type": "quantitative", "scale": {"domain": [0, 18], "nice": false}, "axis": {"orient": "bottom", "values": [0,2,4,6,8,10,12,14,16,18], "title": "Time (hours)"}},
                      "y": {"field": "v", "type": "quantitative", "scale": {"domain": [0, 1.3], "nice": false}, "axis": {"orient": "left", "values": [0,0.2,0.4,0.6,0.8,1.0,1.2], "format": ".1f", "title": "O.D. ₆₀₀ ₙₘ"}},
                      "detail": {"field": "c"}}},
        {"data": {"name": "B_m"}, "mark": {"type": "line", "interpolate": "monotone", "color": "#000", "strokeWidth": 3.2, "clip": true},
         "encoding": {"x": {"field": "t", "type": "quantitative", "axis": {"orient": "top", "values": [0,2,4,6,8,10,12,14,16,18], "labels": false, "title": "LREC90 (blaCTX-M-14) Growth", "titlePadding": 45, "titleFontSize": 21}},
                      "y": {"field": "v", "type": "quantitative", "axis": {"orient": "right", "values": [0,0.2,0.4,0.6,0.8,1.0,1.2], "labels": false, "title": null}},
                      "detail": {"field": "c"}}}
      ]
    },
    {
      "width": 858, "height": 524,
      "title": {"text": "C"},
      "resolve": {"axis": {"x": "independent", "y": "independent"}},
      "layer": [
        {"data": {"name": "C_e"}, "mark": {"type": "line", "interpolate": "monotone", "color": "#9a9a9a", "strokeWidth": 1.3, "strokeDash": [2, 2], "clip": true},
         "encoding": {"x": {"field": "t", "type": "quantitative", "scale": {"domain": [0, 18], "nice": false}, "axis": {"orient": "bottom", "values": [0,2,4,6,8,10,12,14,16,18], "title": "Time (hours)"}},
                      "y": {"field": "v", "type": "quantitative", "scale": {"domain": [0, 1.3], "nice": false}, "axis": {"orient": "left", "values": [0,0.2,0.4,0.6,0.8,1.0,1.2], "format": ".1f", "title": "O.D. ₆₀₀ ₙₘ"}},
                      "detail": {"field": "c"}}},
        {"data": {"name": "C_m"}, "mark": {"type": "line", "interpolate": "monotone", "color": "#000", "strokeWidth": 3.2, "strokeCap": "round", "clip": true},
         "encoding": {"x": {"field": "t", "type": "quantitative", "axis": {"orient": "top", "values": [0,2,4,6,8,10,12,14,16,18], "labels": false, "title": "LREC90 (blaCTX-M-14) Growth", "titlePadding": 45, "titleFontSize": 21}},
                      "y": {"field": "v", "type": "quantitative", "axis": {"orient": "right", "values": [0,0.2,0.4,0.6,0.8,1.0,1.2], "labels": false, "title": null}},
                      "strokeDash": {"field": "c", "type": "nominal", "scale": {"domain": ["s", "d", "o", "x"], "range": [[1, 0], [10, 6], [0.1, 9], [10, 6, 0.1, 6]]}, "legend": null}}}
      ]
    },
    {
      "width": 858, "height": 524,
      "title": {"text": "D"},
      "resolve": {"axis": {"x": "independent", "y": "independent"}},
      "layer": [
        {"data": {"name": "D_e"}, "mark": {"type": "line", "interpolate": "monotone", "color": "#9a9a9a", "strokeWidth": 1.3, "strokeDash": [2, 2], "clip": true},
         "encoding": {"x": {"field": "t", "type": "quantitative", "scale": {"domain": [0, 18], "nice": false}, "axis": {"orient": "bottom", "values": [0,2,4,6,8,10,12,14,16,18], "title": "Time (hours)"}},
                      "y": {"field": "v", "type": "quantitative", "scale": {"domain": [0, 1.3], "nice": false}, "axis": {"orient": "left", "values": [0,0.2,0.4,0.6,0.8,1.0,1.2], "format": ".1f", "title": "O.D. ₆₀₀ ₙₘ"}},
                      "detail": {"field": "c"}}},
        {"data": {"name": "D_m"}, "mark": {"type": "line", "interpolate": "monotone", "color": "#000", "strokeWidth": 3.2, "strokeCap": "round", "clip": true},
         "encoding": {"x": {"field": "t", "type": "quantitative", "axis": {"orient": "top", "values": [0,2,4,6,8,10,12,14,16,18], "labels": false, "title": "LREC90 (blaCTX-M-14) Growth", "titlePadding": 45, "titleFontSize": 21}},
                      "y": {"field": "v", "type": "quantitative", "axis": {"orient": "right", "values": [0,0.2,0.4,0.6,0.8,1.0,1.2], "labels": false, "title": null}},
                      "strokeDash": {"field": "c", "type": "nominal", "scale": {"domain": ["s", "d", "o", "x"], "range": [[1, 0], [10, 6], [0.1, 9], [10, 6, 0.1, 6]]}, "legend": null}}}
      ]
    },
    {
      "width": 858, "height": 524,
      "title": {"text": "E"},
      "resolve": {"axis": {"x": "independent", "y": "independent"}},
      "layer": [
        {"data": {"name": "E_e"}, "mark": {"type": "line", "interpolate": "monotone", "color": "#9a9a9a", "strokeWidth": 1.3, "strokeDash": [2, 2], "clip": true},
         "encoding": {"x": {"field": "t", "type": "quantitative", "scale": {"domain": [0, 18], "nice": false}, "axis": {"orient": "bottom", "values": [0,2,4,6,8,10,12,14,16,18], "title": "Time (hours)"}},
                      "y": {"field": "v", "type": "quantitative", "scale": {"domain": [0, 1.3], "nice": false}, "axis": {"orient": "left", "values": [0,0.2,0.4,0.6,0.8,1.0,1.2], "format": ".1f", "title": "O.D. ₆₀₀ ₙₘ"}},
                      "detail": {"field": "c"}}},
        {"data": {"name": "E_m"}, "mark": {"type": "line", "interpolate": "monotone", "color": "#000", "strokeWidth": 3.2, "strokeCap": "round", "clip": true},
         "encoding": {"x": {"field": "t", "type": "quantitative", "axis": {"orient": "top", "values": [0,2,4,6,8,10,12,14,16,18], "labels": false, "title": "LREC454 (blaCTX-M-15) Growth", "titlePadding": 45, "titleFontSize": 21}},
                      "y": {"field": "v", "type": "quantitative", "axis": {"orient": "right", "values": [0,0.2,0.4,0.6,0.8,1.0,1.2], "labels": false, "title": null}},
                      "strokeDash": {"field": "c", "type": "nominal", "scale": {"domain": ["s", "d", "o", "x"], "range": [[1, 0], [10, 6], [0.1, 9], [10, 6, 0.1, 6]]}, "legend": null}}}
      ]
    },
    {
      "width": 858, "height": 524,
      "title": {"text": "F"},
      "resolve": {"axis": {"x": "independent", "y": "independent"}},
      "layer": [
        {"data": {"name": "F_e"}, "mark": {"type": "line", "interpolate": "monotone", "color": "#9a9a9a", "strokeWidth": 1.3, "strokeDash": [2, 2], "clip": true},
         "encoding": {"x": {"field": "t", "type": "quantitative", "scale": {"domain": [0, 18], "nice": false}, "axis": {"orient": "bottom", "values": [0,2,4,6,8,10,12,14,16,18], "title": "Time (hours)"}},
                      "y": {"field": "v", "type": "quantitative", "scale": {"domain": [0, 1.3], "nice": false}, "axis": {"orient": "left", "values": [0,0.2,0.4,0.6,0.8,1.0,1.2], "format": ".1f", "title": "O.D. ₆₀₀ ₙₘ"}},
                      "detail": {"field": "c"}}},
        {"data": {"name": "F_m"}, "mark": {"type": "line", "interpolate": "monotone", "color": "#000", "strokeWidth": 3.2, "strokeCap": "round", "clip": true},
         "encoding": {"x": {"field": "t", "type": "quantitative", "axis": {"orient": "top", "values": [0,2,4,6,8,10,12,14,16,18], "labels": false, "title": "LREC454 (blaCTX-M-15) Growth", "titlePadding": 45, "titleFontSize": 21}},
                      "y": {"field": "v", "type": "quantitative", "axis": {"orient": "right", "values": [0,0.2,0.4,0.6,0.8,1.0,1.2], "labels": false, "title": null}},
                      "strokeDash": {"field": "c", "type": "nominal", "scale": {"domain": ["s", "d", "o", "x"], "range": [[1, 0], [10, 6], [0.1, 9], [10, 6, 0.1, 6]]}, "legend": null}}}
      ]
    }
  ],
  "config": {
    "font": "Liberation Sans",
    "view": {"stroke": "#000", "strokeWidth": 3},
    "axis": {
      "domain": false, "grid": false,
      "labelFont": "Liberation Sans", "labelFontWeight": "bold", "labelFontSize": 17, "labelColor": "#000",
      "titleFont": "Liberation Sans", "titleFontWeight": "bold", "titleColor": "#000", "titleFontSize": 23,
      "tickColor": "#000", "tickWidth": 3, "tickSize": -9, "minExtent": 0
    },
    "axisBottom": {"labelPadding": 27, "titlePadding": 17},
    "axisLeft": {"labelPadding": 24, "titlePadding": 32, "titleFontSize": 21},
    "axisTop": {"labelPadding": 18},
    "axisRight": {"labelPadding": 18},
    "title": {"anchor": "start", "frame": "bounds", "fontSize": 30, "fontWeight": "bold", "font": "Liberation Sans", "color": "#000", "offset": -24, "dx": 8}
  }
}
